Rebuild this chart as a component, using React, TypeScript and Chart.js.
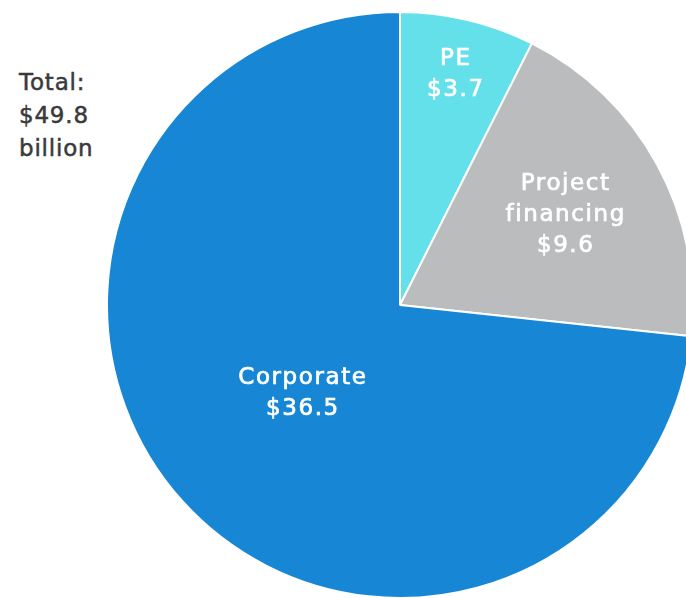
import React, { useEffect, useRef } from "react";
import { Chart, registerables } from "chart.js";

Chart.register(...registerables);

const categories = ["PE", "Project financing", "Corporate"];
const values = [3.7, 9.6, 36.5];
const valueLabels = ["$3.7", "$9.6", "$36.5"];
const labelLines = [["PE"], ["Project", "financing"], ["Corporate"]];
const totalLines = ["Total:", "$49.8", "billion"];

const colors = ["#63e0e9", "#bbbcbe", "#1686d5"];
const labelRadius = [0.81, 0.64, 0.45];

const sliceLabels = {
  id: "sliceLabels",
  afterDatasetsDraw(chart: any) {
    const ctx = chart.ctx;
    const meta = chart.getDatasetMeta(0);
    ctx.save();
    ctx.fillStyle = "#ffffff";
    ctx.strokeStyle = "#ffffff";
    ctx.lineWidth = 0.7;
    ctx.font = "23px 'DejaVu Sans'";
    ctx.textAlign = "center";
    ctx.textBaseline = "middle";
    try {
      (ctx as any).letterSpacing = "1.6px";
    } catch (e) {}
    meta.data.forEach((arc: any, i: number) => {
      const p = arc.getProps(["x", "y", "startAngle", "endAngle", "outerRadius"], true);
      const mid = (p.startAngle + p.endAngle) / 2;
      const r = p.outerRadius * labelRadius[i];
      const cx = p.x + Math.cos(mid) * r;
      const cy = p.y + Math.sin(mid) * r;
      const lines = [...labelLines[i], valueLabels[i]];
      const lh = 31;
      const y0 = cy - ((lines.length - 1) * lh) / 2;
      lines.forEach((t, j) => {
        ctx.fillText(t, cx + 1, y0 + j * lh);
        ctx.strokeText(t, cx + 1, y0 + j * lh);
      });
    });
    ctx.restore();
  },
};

export default function App() {
  const ref = useRef<HTMLCanvasElement | null>(null);
  useEffect(() => {
    if (!ref.current) return;
    const chart = new Chart(ref.current, {
      type: "pie",
      data: {
        labels: categories,
        datasets: [
          {
            data: values,
            backgroundColor: colors,
            borderColor: "#ffffff",
            borderWidth: 2,
          },
        ],
      },
      options: {
        responsive: false,
        animation: false,
        layout: { padding: 0 },
        plugins: {
          legend: { display: false },
          tooltip: { enabled: false },
        },
      },
      plugins: [sliceLabels],
    });
    return () => chart.destroy();
  }, []);

  return (
    <div
      style={{
        position: "fixed",
        left: 0,
        top: 0,
        width: "100vw",
        height: "100vh",
        overflow: "hidden",
        background: "#ffffff",
      }}
    >
      <div style={{ position: "absolute", left: 106, top: 11, width: 588, height: 588 }}>
        <canvas ref={ref} width={588} height={588} style={{ display: "block" }} />
      </div>
      <div
        style={{
          position: "absolute",
          left: 19,
          top: 66,
          fontFamily: "'DejaVu Sans', sans-serif",
          fontSize: 23,
          lineHeight: "33px",
          color: "#3a3a3a",
          letterSpacing: "0.8px",
          WebkitTextStroke: "0.5px #3a3a3a",
        }}
      >
        {totalLines.map((t, i) => (
          <div key={i}>{t}</div>
        ))}
      </div>
    </div>
  );
}
